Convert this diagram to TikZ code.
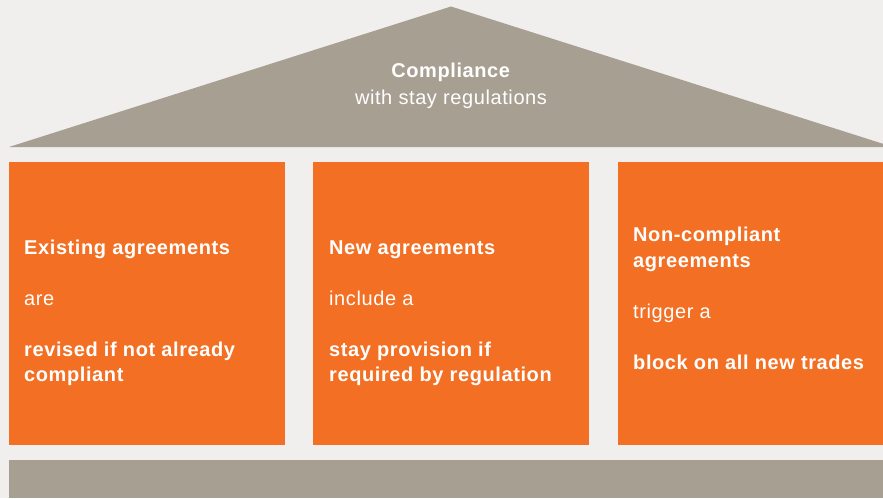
\documentclass[tikz,border=0pt]{standalone}
\usepackage{fontspec}
\setmainfont{Liberation Sans}[LetterSpace=3]
\usepackage{tikz}

\definecolor{wallgrey}{RGB}{240,239,237}
\definecolor{roofgrey}{RGB}{168,159,147}
\definecolor{pillarorange}{RGB}{243,111,35}

\tikzset{
	roofword/.style={text=white, font=\fontsize{20}{26.5}\selectfont, align=center, inner sep=0pt, anchor=north},
	pillarword/.style={text=white, font=\fontsize{20}{25.5}\selectfont, align=left, inner sep=0pt, anchor=north west}
}

\begin{document}
\begin{tikzpicture}[x=1pt, y=-1pt]
		%%%%% START %%%%%
		\useasboundingbox[fill=wallgrey] (0, 0) rectangle (883, 498);
		
		% roof
		\fill[roofgrey] (9, 147) -- (451, 6.5) -- (883, 143.8) -- (883, 147) -- cycle;
		\node[roofword] (roof) at (451, 59.2) {\strut\textbf{Compliance}\\\strut with stay regulations};
		
		% three pillars
		\fill[pillarorange] (9, 162) rectangle (285, 445);
		\fill[pillarorange] (313, 162) rectangle (589, 445);
		\fill[pillarorange] (618, 162) rectangle (883, 445);
		
		\node[pillarword] (existing) at (24, 236.4) {\strut\textbf{Existing agreements}\\[25.5pt]
			\strut are\\[25.5pt]
			\strut\textbf{revised if not already}\\\strut\textbf{compliant}};
		\node[pillarword] (new) at (329, 236.4) {\strut\textbf{New agreements}\\[25.5pt]
			\strut include a\\[25.5pt]
			\strut\textbf{stay provision if}\\\strut\textbf{required by regulation}};
		\node[pillarword] (noncompliant) at (633, 223.9) {\strut\textbf{Non-compliant}\\\strut\textbf{agreements}\\[25.5pt]
			\strut trigger a\\[25.5pt]
			\strut\textbf{block on all new trades}};
		
		% base
		\fill[roofgrey] (9, 460) rectangle (883, 498);
		%%%%% END %%%%%
	\end{tikzpicture}
\end{document}
